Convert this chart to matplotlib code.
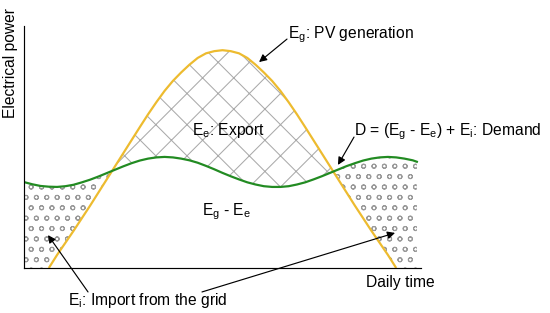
import matplotlib
matplotlib.use('Agg')

import numpy as np
import matplotlib.pyplot as plt

# time axis (hours), half-hour steps plus the last demand point
hours = np.append(np.arange(0, 24, 0.5), 23.75)

# PV generation (arbitrary units), zero outside daylight
pv = [0, 0, 0,
      0.0, 5.4, 10.4, 15.4, 20.6, 25.8, 31.2, 36.6, 42.0, 47.4, 52.8,
      58.2, 63.5, 68.5, 73.2, 77.3, 80.8, 84.0, 86.8, 88.7, 89.6,
      90.0,
      89.6, 88.7, 86.8, 84.0, 80.8, 77.3, 73.2, 68.5, 63.5, 58.2,
      52.8, 47.4, 42.0, 36.6, 31.2, 25.8, 20.6, 15.4, 10.4, 5.4, 0.0,
      0, 0, 0]

# demand (arbitrary units)
demand = [35.5, 34.6, 33.9, 33.6, 33.5, 33.8, 34.4, 35.4, 36.5, 37.8,
          39.2, 40.6, 42.0, 43.3, 44.4, 45.2, 45.7, 45.9, 45.7, 45.2,
          44.5, 43.5, 42.2, 40.8, 39.3, 37.9, 36.6, 35.4, 34.5, 33.8,
          33.5, 33.5, 33.8, 34.5, 35.4, 36.6, 37.9, 39.3, 40.7, 42.1,
          43.3, 44.4, 45.2, 45.7, 45.9, 45.7, 45.2, 44.5, 43.9]

pv = np.array(pv)
demand = np.array(demand)

plt.rcParams['font.family'] = ['Liberation Sans', 'DejaVu Sans']
plt.rcParams['mathtext.fontset'] = 'custom'
plt.rcParams['mathtext.rm'] = 'Liberation Sans'
plt.rcParams['hatch.linewidth'] = 0.4

DPI = 187
fig = plt.figure(figsize=(550 / DPI, 313 / DPI), dpi=DPI)
ax = fig.add_axes([24 / 550, 45 / 313, 397 / 550, 242 / 313])

# export area (cross hatch) and import areas (small circles)
ax.fill_between(hours, pv, demand, where=pv > demand, interpolate=True,
                facecolor='none', edgecolor='#aaaaaa', hatch='xx', linewidth=0)
ax.fill_between(hours, pv, demand, where=demand >= pv, interpolate=True,
                facecolor='none', edgecolor='#999999', hatch='ooo', linewidth=0)

sun = (hours >= 1.5) & (hours <= 22.5)
ax.plot(hours[sun], pv[sun], color='#EDBB2F', lw=0.85, solid_capstyle='butt')
ax.plot(hours, demand, color='#228B22', lw=0.85)

ax.set_xlim(0, 24)
ax.set_ylim(0, 100)
ax.set_xticks([])
ax.set_yticks([])
for s in ['top', 'right']:
    ax.spines[s].set_visible(False)
for s in ['left', 'bottom']:
    ax.spines[s].set_linewidth(0.45)

fs = 6.0
ax.text(-0.79, 84.7, 'Electrical power', rotation=90, ha='center', va='center', fontsize=fs)
ax.text(20.68, -7.9, 'Daily time', ha='left', va='baseline', fontsize=fs)
ax.text(15.96, 95.0, r'$\mathregular{E_g}$: PV generation', ha='left', va='baseline', fontsize=fs)
ax.text(10.16, 55.0, r'$\mathregular{E_e}$: Export', ha='left', va='baseline', fontsize=fs)
ax.text(19.95, 55.0, r'D = ($\mathregular{E_g}$ - $\mathregular{E_e}$) + $\mathregular{E_i}$: Demand',
        ha='left', va='baseline', fontsize=fs)
ax.text(10.76, 21.9, r'$\mathregular{E_g}$ - $\mathregular{E_e}$', ha='left', va='baseline', fontsize=fs)
ax.text(2.66, -15.3, r'$\mathregular{E_i}$: Import from the grid', ha='left', va='baseline', fontsize=fs)

arrow = dict(arrowstyle='-|>', color='black', lw=0.45, mutation_scale=6, shrinkA=0, shrinkB=0)
ax.annotate('', xy=(14.21, 85.1), xytext=(15.90, 94.6), arrowprops=arrow)
ax.annotate('', xy=(18.98, 42.6), xytext=(19.95, 54.1), arrowprops=arrow)
ax.annotate('', xy=(1.45, 13.6), xytext=(3.87, -9.9), arrowprops=arrow, annotation_clip=False)
ax.annotate('', xy=(22.43, 14.5), xytext=(10.76, -9.9), arrowprops=arrow, annotation_clip=False)

plt.savefig('out.png', dpi=DPI)
plt.close()
